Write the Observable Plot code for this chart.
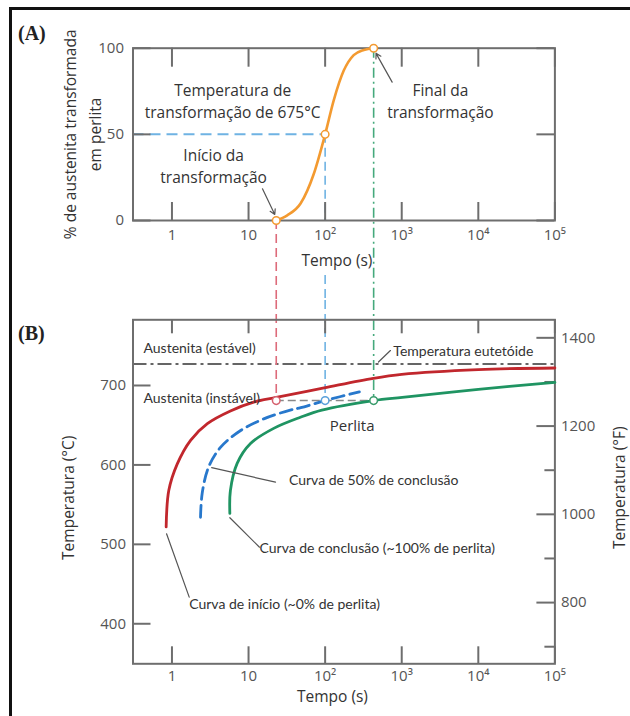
<!DOCTYPE html>
<html><head><meta charset="utf-8">
<script src="https://cdn.jsdelivr.net/npm/d3@7"></script>
<script src="https://cdn.jsdelivr.net/npm/@observablehq/plot@0.6"></script>
<style>
body{margin:0;background:#fff;}
#wrap{position:relative;width:630px;height:716px;overflow:hidden;background:#fff;}
#wrap svg{display:block;}
.frame{position:absolute;left:9px;top:7px;right:-10px;bottom:-10px;border-top:3px solid #111;border-left:3px solid #111;pointer-events:none;}
.tag{position:absolute;font-family:"Liberation Serif",serif;font-weight:bold;font-size:20px;color:#222;line-height:1;}
</style></head><body>
<div id="wrap"><div class="frame"></div><div class="tag" style="left:18px;top:23px">(A)</div><div class="tag" style="left:18px;top:323px">(B)</div></div>
<script>
// ---------- data ----------
const xTicks = [1, 10, 100, 1000, 10000, 100000];
const xTickLabels = ["1", "10", "10²", "10³", "10⁴", "10⁵"];
const xDomain = [0.31, 100000];

// Panel A: % austenite transformed at 675 °C
const pctTime  = [23, 32, 48, 71, 100, 130, 175, 236, 320, 430];
const pctValue = [0, 3, 10, 27, 50, 70, 87, 96, 99, 100];
const pctMarkTime  = [23, 100, 430];
const pctMarkValue = [0, 50, 100];
const pctTicks = [0, 50, 100];

// Panel B: TTT curves
const startTime = [0.84, 0.91, 1.17, 1.75, 2.9, 5.8, 11.7, 23, 97, 425, 1000, 10000, 100000];
const startTemp = [522, 568, 601, 631, 652, 668, 679, 685, 697, 709, 714, 720, 722];
const halfTime  = [2.36, 2.48, 3.0, 4.3, 7.8, 15.8, 35, 48, 100, 280];
const halfTemp  = [534, 564, 597, 622, 643, 658, 669, 672, 681, 692];
const endTime   = [5.7, 5.8, 7.1, 10.6, 21.3, 47.6, 90.6, 430, 1016, 10000, 100000];
const endTemp   = [539, 568, 602, 627, 646, 660, 669, 681, 685, 695, 704];
const isoTemp = 681;
const isoTimes = [23, 100, 430];
const eutectoidTemp = 727;
const yDomainB = [349.6, 782.7];
const celsiusTicks = [400, 500, 600, 700];
const fahrenheitMajor = [800, 1000, 1200, 1400];
const fahrenheitMinor = [700, 900, 1100, 1300];

const notesA = [
  {t: 6.2, v: 70, label: "Temperatura de\ntransformação de 675°C"},
  {t: 3.5, v: 32, label: "Início da\ntransformação"},
  {t: 3200, v: 70, label: "Final da\ntransformação"}
];
const arrowsA = [
  {x1: 15.2, y1: 18.4, x2: 22.0, y2: 3.5},
  {x1: 750, y1: 80.3, x2: 462, y2: 97.0}
];
const notesB = [
  {t: 0.425, v: 746.6, label: "Austenita (estável)"},
  {t: 778, v: 743.2, label: "Temperatura eutetóide"},
  {t: 0.425, v: 683.6, label: "Austenita (instável)"},
  {t: 33.7, v: 580.4, label: "Curva de 50% de conclusão"},
  {t: 13.9, v: 494.4, label: "Curva de conclusão (~100% de perlita)"},
  {t: 1.68, v: 424.3, label: "Curva de início (~0% de perlita)"}
];
const arrowsB = [
  {x1: 712, y1: 744, x2: 497, y2: 729.5, bend: 0},
  {x1: 22.5, y1: 578.3, x2: 3.3, y2: 596.5, bend: 12},
  {x1: 13.9, y1: 496.4, x2: 5.7, y2: 533.5, bend: 18},
  {x1: 1.68, y1: 433.5, x2: 0.85, y2: 513.3, bend: 22}
];

// ---------- helpers ----------
const f2c = f => (f - 32) * 5 / 9;
const c2f = c => c * 9 / 5 + 32;
const zip = (a, b) => a.map((x, i) => ({t: x, v: b[i]}));
const tickLabel = d => xTickLabels[xTicks.indexOf(d)];

const W = 630, mL = 132.5, mR = 75.6;
const innerW = W - mL - mR;
const AXIS = "#6e6e6e";
const ORANGE = "#f39a30", RED = "#c1272d", BLUE = "#2878cc", GREEN = "#1f9462";
const sans = "'Open Sans', sans-serif";
const narrow = "Lato, sans-serif";

// ---------- Panel A ----------
const hA = 300, mTA = 47.7, mBA = 80, innerHA = hA - mTA - mBA;
const plotA = Plot.plot({
  width: W, height: hA, marginLeft: mL, marginRight: mR, marginTop: mTA, marginBottom: mBA,
  style: {fontFamily: sans, fontSize: "15px", color: "#333", background: "transparent", overflow: "visible"},
  x: {type: "log", domain: xDomain, axis: null},
  y: {domain: [0, 100], axis: null},
  marks: [
    // guide lines
    Plot.ruleY([50], {x1: xDomain[0], x2: 100, stroke: "#6fb3e3", strokeWidth: 2, strokeDasharray: "11,6"}),
    Plot.ruleX([100], {y1: 50, y2: 0, stroke: "#6fb3e3", strokeWidth: 1.6, strokeDasharray: "9,5"}),
    Plot.ruleX([100], {y1: 0, y2: 0, insetTop: 55, insetBottom: -mBA, stroke: "#6fb3e3", strokeWidth: 1.6, strokeDasharray: "9,5"}),
    Plot.ruleX([23], {y1: 0, y2: 0, insetBottom: -mBA, stroke: "#dd6b7a", strokeWidth: 1.6, strokeDasharray: "9,5"}),
    Plot.ruleX([430], {y1: 100, y2: 0, insetBottom: -mBA, stroke: "#45a97c", strokeWidth: 1.6, strokeDasharray: "10,4,2,4"}),
    // frame and inward ticks
    Plot.frame({stroke: AXIS, strokeWidth: 2}),
    Plot.ruleX(xTicks, {stroke: AXIS, strokeWidth: 2, insetTop: innerHA - 18}),
    Plot.ruleX(xTicks, {stroke: AXIS, strokeWidth: 2, insetBottom: innerHA - 19}),
    Plot.ruleY(pctTicks, {stroke: AXIS, strokeWidth: 2, insetRight: innerW - 18}),
    Plot.ruleY(pctTicks, {stroke: AXIS, strokeWidth: 2, insetLeft: innerW - 18}),
    Plot.axisX({ticks: xTicks, tickFormat: tickLabel, tickSize: 0, tickPadding: 9, label: null, fill: "#555", fontSize: 15}),
    Plot.axisY({ticks: pctTicks, tickSize: 0, tickPadding: 9, label: null, fill: "#555", fontSize: 15}),
    // curve
    Plot.line(zip(pctTime, pctValue), {x: "t", y: "v", stroke: ORANGE, strokeWidth: 2.6, curve: "monotone-x"}),
    Plot.dot(zip(pctMarkTime, pctMarkValue), {x: "t", y: "v", r: 3.8, fill: "white", stroke: ORANGE, strokeWidth: 1.5}),
    // annotations
    Plot.text(notesA, {x: "t", y: "v", text: "label", fontSize: 15.5, lineHeight: 1.42, fill: "#333"}),
    Plot.arrow(arrowsA, {x1: "x1", y1: "y1", x2: "x2", y2: "y2", stroke: "#555", strokeWidth: 1.2, headLength: 7}),
    // axis titles
    Plot.text(["Tempo (s)"], {text: d => d, frameAnchor: "bottom", dx: -7, dy: 45, fontSize: 15.5, fill: "#333"}),
    Plot.text(["% de austenita transformada\nem perlita"], {text: d => d, frameAnchor: "left", textAnchor: "middle", rotate: -90, dx: -52.5, lineHeight: 1.6, fontSize: 15.5, fill: "#333"})
  ]
});

// ---------- Panel B ----------
const hB = 416, mTB = 19.3, mBB = 52.7, innerHB = hB - mTB - mBB;
const plotB = Plot.plot({
  width: W, height: hB, marginLeft: mL, marginRight: mR, marginTop: mTB, marginBottom: mBB,
  style: {fontFamily: sans, fontSize: "15px", color: "#333", background: "transparent", overflow: "visible"},
  x: {type: "log", domain: xDomain, axis: null},
  y: {domain: yDomainB, axis: null},
  marks: [
    // eutectoid and isotherm
    Plot.ruleY([eutectoidTemp], {stroke: "#333", strokeWidth: 1.5, strokeDasharray: "14,4,3,4"}),
    Plot.ruleY([isoTemp], {x1: isoTimes[0], x2: isoTimes[2], stroke: "#888", strokeWidth: 1.5, strokeDasharray: "8,4"}),
    // guide lines coming down from panel A
    Plot.ruleX([23], {y1: yDomainB[1], y2: isoTemp, insetTop: -mTB, stroke: "#dd6b7a", strokeWidth: 1.6, strokeDasharray: "9,5"}),
    Plot.ruleX([100], {y1: yDomainB[1], y2: isoTemp, insetTop: -mTB, stroke: "#6fb3e3", strokeWidth: 1.6, strokeDasharray: "9,5"}),
    Plot.ruleX([430], {y1: yDomainB[1], y2: isoTemp, insetTop: -mTB, stroke: "#45a97c", strokeWidth: 1.6, strokeDasharray: "10,4,2,4"}),
    // frame and ticks
    Plot.frame({stroke: AXIS, strokeWidth: 2}),
    Plot.ruleX(xTicks, {stroke: AXIS, strokeWidth: 2, insetTop: innerHB - 17}),
    Plot.ruleX(xTicks, {stroke: AXIS, strokeWidth: 2, insetBottom: innerHB - 14}),
    Plot.ruleY(celsiusTicks, {stroke: AXIS, strokeWidth: 2, insetRight: innerW - 18}),
    Plot.ruleY(fahrenheitMajor.map(f2c), {stroke: AXIS, strokeWidth: 2, insetLeft: innerW - 18}),
    Plot.ruleY(fahrenheitMinor.map(f2c), {stroke: AXIS, strokeWidth: 2, insetLeft: innerW - 10}),
    Plot.axisX({ticks: xTicks, tickFormat: tickLabel, tickSize: 0, tickPadding: 7, label: null, fill: "#555", fontSize: 15}),
    Plot.axisY({ticks: celsiusTicks, tickSize: 0, tickPadding: 7, label: null, fill: "#555", fontSize: 15}),
    Plot.axisY({anchor: "right", ticks: fahrenheitMajor.map(f2c), tickFormat: c => String(Math.round(c2f(c))), tickSize: 0, tickPadding: 6, label: null, fill: "#555", fontSize: 15}),
    // curves
    Plot.line(zip(startTime, startTemp), {x: "t", y: "v", stroke: RED, strokeWidth: 2.8, curve: "catmull-rom"}),
    Plot.line(zip(halfTime, halfTemp), {x: "t", y: "v", stroke: BLUE, strokeWidth: 2.8, strokeDasharray: "12,6", curve: "catmull-rom"}),
    Plot.line(zip(endTime, endTemp), {x: "t", y: "v", stroke: GREEN, strokeWidth: 2.8, curve: "catmull-rom"}),
    Plot.dot(isoTimes, {x: d => d, y: () => isoTemp, r: 3.8, fill: "white", stroke: (d, i) => ["#d5606e", "#5aa0da", "#3a9c6c"][i], strokeWidth: 1.5}),
    // annotations
    Plot.text(notesB, {x: "t", y: "v", text: "label", textAnchor: "start", fontFamily: narrow, fontSize: 14, fill: "#333"}),
    Plot.text(["Perlita"], {text: d => d, x: () => 225, y: () => 648.4, fontSize: 15, fill: "#333"}),
    Plot.arrow(arrowsB, {x1: "x1", y1: "y1", x2: "x2", y2: "y2", bend: "bend", stroke: "#555", strokeWidth: 1.2, headLength: 7}),
    // axis titles
    Plot.text(["Tempo (s)"], {text: d => d, frameAnchor: "bottom", dx: -11.5, dy: 38.5, fontSize: 15.5, fill: "#333"}),
    Plot.text(["Temperatura (°C)"], {text: d => d, frameAnchor: "left", textAnchor: "middle", rotate: -90, dx: -63.5, dy: 6, fontSize: 15.5, fill: "#333"}),
    Plot.text(["Temperatura (°F)"], {text: d => d, frameAnchor: "right", textAnchor: "middle", rotate: -90, dx: 65.6, dy: -4, fontSize: 15.5, fill: "#333"})
  ]
});

const wrap = document.getElementById("wrap");
wrap.insertBefore(plotA, wrap.firstChild);
wrap.insertBefore(plotB, plotA.nextSibling);
</script>
</body></html>
